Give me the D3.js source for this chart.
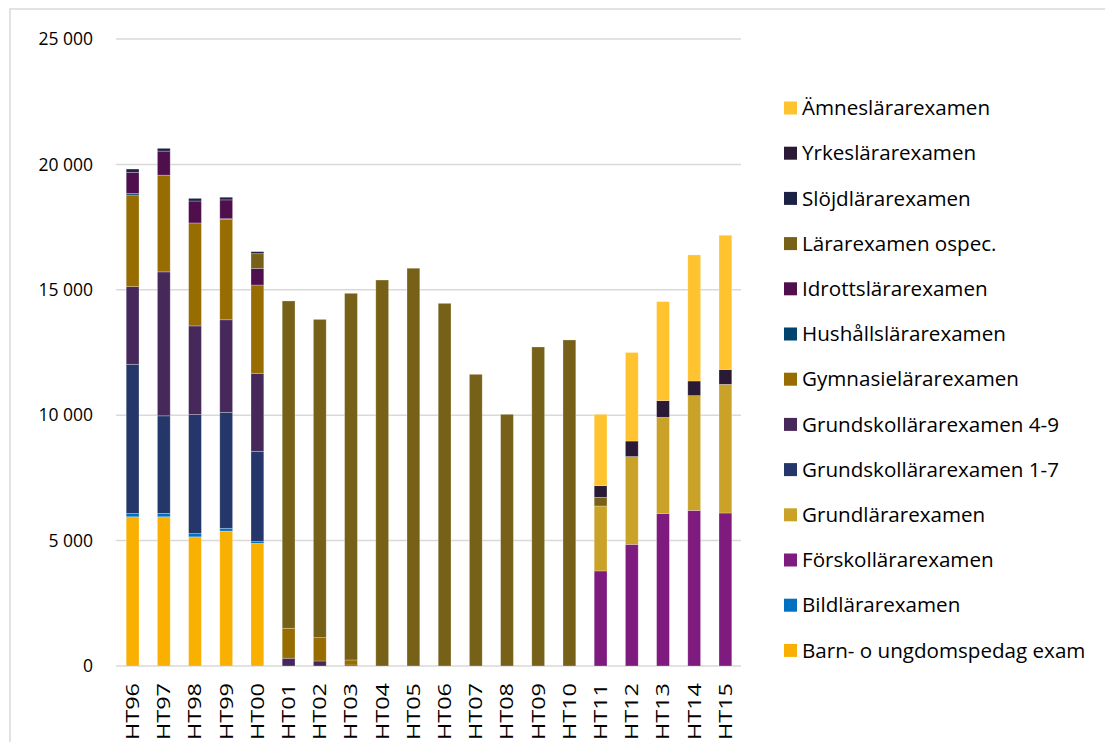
<!DOCTYPE html>
<html>
<head>
<meta charset="utf-8">
<script src="https://cdn.jsdelivr.net/npm/d3@7"></script>
<style>
  body { margin: 0; background: #fff; }
  text { font-family: "Open Sans", sans-serif; fill: #000; }
</style>
</head>
<body>
<div id="chart"></div>
<script>
// terms (x categories)
const terms = ['HT96','HT97','HT98','HT99','HT00','HT01','HT02','HT03','HT04','HT05',
               'HT06','HT07','HT08','HT09','HT10','HT11','HT12','HT13','HT14','HT15'];

// series, stacked bottom -> top
const seriesNames = ['Barn- o ungdomspedag exam','Bildlärarexamen','Förskollärarexamen','Grundlärarexamen',
  'Grundskollärarexamen 1-7','Grundskollärarexamen 4-9','Gymnasielärarexamen','Hushållslärarexamen',
  'Idrottslärarexamen','Lärarexamen ospec.','Slöjdlärarexamen','Yrkeslärarexamen','Ämneslärarexamen'];

const barn     = [5950,5950,5150,5380,4890,0,0,0,0,0,0,0,0,0,0,0,0,0,0,0];
const bild     = [130,135,130,110,70,0,0,0,0,0,0,0,0,0,0,0,0,0,0,0];
const forskol  = [0,0,0,0,0,0,0,0,0,0,0,0,0,0,0,3790,4850,6085,6205,6100];
const grundl   = [0,0,0,0,0,0,0,0,0,0,0,0,0,0,0,2590,3500,3830,4575,5130];
const gs17     = [5950,3890,4745,4625,3600,0,0,0,0,0,0,0,0,0,0,0,0,0,0,0];
const gs49     = [3095,5740,3535,3690,3110,310,200,40,0,0,0,0,0,0,0,0,0,0,0,0];
const gymn     = [3655,3855,4105,4000,3520,1195,930,200,0,0,0,0,0,0,0,0,0,0,0,0];
const hushall  = [60,0,0,30,0,0,0,0,0,0,0,0,0,0,0,0,0,0,0,0];
const idrott   = [845,960,875,750,665,0,0,0,0,0,0,0,0,0,0,0,0,0,0,0];
const ospec    = [0,0,0,0,585,13050,12690,14620,15390,15860,14460,11630,10035,12720,13000,345,0,0,0,0];
const slojd    = [130,110,105,105,80,0,0,0,0,0,0,0,0,0,0,0,0,0,0,0];
const yrkes    = [0,0,0,0,0,0,0,0,0,0,0,0,0,0,0,465,620,665,585,590];
const amnes    = [0,0,0,0,0,0,0,0,0,0,0,0,0,0,0,2845,3530,3950,5025,5355];

const yTicks = [0, 5000, 10000, 15000, 20000, 25000];

const seriesValues = [barn, bild, forskol, grundl, gs17, gs49, gymn, hushall, idrott, ospec, slojd, yrkes, amnes];
const colors = ['#f9b000','#0070c0','#7f1a7f','#c9a227','#24366a','#46285a','#976c00',
                '#00446e','#4f0f4c','#776118','#1b2244','#2b1a35','#ffc32f'];

const width = 1105, height = 742;
const margin = {left: 117, right: 741, top: 39, bottom: 666};

const svg = d3.select('#chart').append('svg')
    .attr('width', width)
    .attr('height', height);

// outer frame (only top and left edges visible)
svg.append('path')
    .attr('d', `M10,${height} L10,9 L${width},9`)
    .attr('fill', 'none')
    .attr('stroke', '#d9d9d9')
    .attr('stroke-width', 1.5);

// table rows for d3.stack
const rows = terms.map((t, i) => {
  let r = {term: t};
  seriesNames.forEach((s, j) => { r[s] = seriesValues[j][i]; });
  return r;
});

const stacked = d3.stack().keys(seriesNames)(rows);

const x = d3.scaleBand()
    .domain(terms)
    .range([margin.left, margin.right])
    .paddingInner(0.59)
    .paddingOuter(0.295);

const y = d3.scaleLinear()
    .domain([0, 25000])
    .range([margin.bottom, margin.top]);

const fmt = d3.formatLocale({decimal: ',', thousands: ' ', grouping: [3], currency: ['', '']}).format(',d');

// gridlines
svg.append('g')
    .selectAll('line')
    .data(yTicks)
    .enter()
    .append('line')
    .attr('x1', margin.left - 1)
    .attr('x2', margin.right)
    .attr('y1', d => y(d))
    .attr('y2', d => y(d))
    .attr('stroke', '#d9d9d9')
    .attr('stroke-width', 1.5);

// y tick labels
svg.append('g')
    .selectAll('text')
    .data(yTicks)
    .enter()
    .append('text')
    .attr('x', 93)
    .attr('y', d => y(d))
    .attr('dy', '0.35em')
    .attr('text-anchor', 'end')
    .attr('font-size', '17.5px')
    .text(d => fmt(d));

// stacked bars
const layers = svg.append('g')
    .selectAll('g')
    .data(stacked)
    .enter()
    .append('g')
    .attr('fill', (d, i) => colors[i]);

layers.selectAll('rect')
    .data(d => d.filter(p => p[1] - p[0] > 0))
    .enter()
    .append('rect')
    .attr('x', d => x(d.data.term))
    .attr('width', x.bandwidth())
    .attr('y', d => y(d[1]))
    .attr('height', d => y(d[0]) - y(d[1]))
    .attr('stroke', 'rgba(255,255,255,0.35)')
    .attr('stroke-width', 0.75);

// x labels, rotated
svg.append('g')
    .selectAll('text')
    .data(terms)
    .enter()
    .append('text')
    .attr('transform', d => `translate(${x(d) + x.bandwidth() / 2},683) rotate(-90)`)
    .attr('dy', '0.35em')
    .attr('text-anchor', 'end')
    .attr('font-size', '18px')
    .attr('textLength', 57)
    .attr('lengthAdjust', 'spacingAndGlyphs')
    .text(d => d);

// legend, top entry is the last series
const legendNames = seriesNames.slice().reverse();
const legendColors = colors.slice().reverse();
const legend = svg.append('g')
    .selectAll('g')
    .data(legendNames)
    .enter()
    .append('g')
    .attr('transform', (d, i) => `translate(784,${108 + i * 45.2})`);

legend.append('rect')
    .attr('x', 0)
    .attr('y', -6.5)
    .attr('width', 13)
    .attr('height', 13)
    .attr('fill', (d, i) => legendColors[i]);

legend.append('text')
    .attr('x', 18)
    .attr('y', 0)
    .attr('dy', '0.35em')
    .attr('font-size', '20.6px')
    .text(d => d);
</script>
</body>
</html>
